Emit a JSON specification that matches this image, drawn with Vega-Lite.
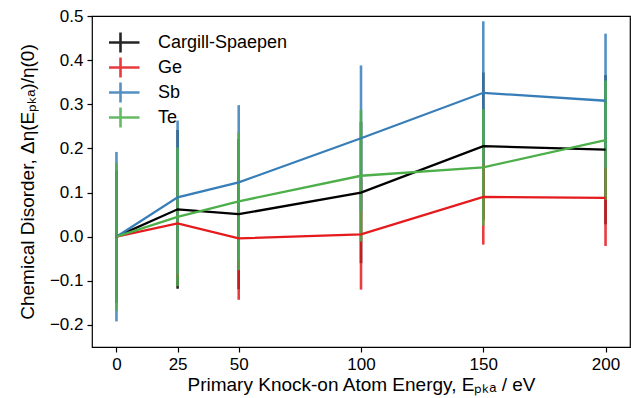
{
  "$schema": "https://vega.github.io/schema/vega-lite/v6.json",
  "width": 538,
  "height": 331,
  "autosize": "none",
  "padding": {"left": 92, "top": 16, "right": 1, "bottom": 51},
  "background": "white",
  "config": {
    "font": "Liberation Sans",
    "view": {"stroke": "black", "strokeWidth": 1.2},
    "axis": {
      "grid": false,
      "domain": false,
      "tickColor": "black",
      "tickSize": 5,
      "tickWidth": 1.2,
      "labelColor": "black",
      "labelFontSize": 17,
      "labelFont": "Liberation Sans",
      "titleColor": "black",
      "titleFontSize": 19,
      "titleFontWeight": "normal",
      "titleFont": "Liberation Sans"
    }
  },
  "data": {
    "values": [
      {"E": 0, "series": "Cargill-Spaepen", "y": 0, "lo": -0.15, "hi": 0.15},
      {"E": 25, "series": "Cargill-Spaepen", "y": 0.062, "lo": -0.118, "hi": 0.242},
      {"E": 50, "series": "Cargill-Spaepen", "y": 0.051, "lo": -0.119, "hi": 0.221},
      {"E": 100, "series": "Cargill-Spaepen", "y": 0.1, "lo": -0.06, "hi": 0.26},
      {"E": 150, "series": "Cargill-Spaepen", "y": 0.205, "lo": 0.038, "hi": 0.372},
      {"E": 200, "series": "Cargill-Spaepen", "y": 0.197, "lo": 0.028, "hi": 0.366},
      {"E": 0, "series": "Ge", "y": 0, "lo": -0.13, "hi": 0.13},
      {"E": 25, "series": "Ge", "y": 0.03, "lo": -0.09, "hi": 0.15},
      {"E": 50, "series": "Ge", "y": -0.004, "lo": -0.143, "hi": 0.135},
      {"E": 100, "series": "Ge", "y": 0.005, "lo": -0.12, "hi": 0.13},
      {"E": 150, "series": "Ge", "y": 0.09, "lo": -0.018, "hi": 0.198},
      {"E": 200, "series": "Ge", "y": 0.088, "lo": -0.021, "hi": 0.197},
      {"E": 0, "series": "Sb", "y": 0, "lo": -0.192, "hi": 0.192},
      {"E": 25, "series": "Sb", "y": 0.089, "lo": -0.085, "hi": 0.263},
      {"E": 50, "series": "Sb", "y": 0.123, "lo": -0.052, "hi": 0.298},
      {"E": 100, "series": "Sb", "y": 0.223, "lo": 0.058, "hi": 0.388},
      {"E": 150, "series": "Sb", "y": 0.326, "lo": 0.164, "hi": 0.488},
      {"E": 200, "series": "Sb", "y": 0.308, "lo": 0.156, "hi": 0.46},
      {"E": 0, "series": "Te", "y": 0, "lo": -0.168, "hi": 0.168},
      {"E": 25, "series": "Te", "y": 0.045, "lo": -0.112, "hi": 0.202},
      {"E": 50, "series": "Te", "y": 0.08, "lo": -0.076, "hi": 0.236},
      {"E": 100, "series": "Te", "y": 0.138, "lo": -0.011, "hi": 0.287},
      {"E": 150, "series": "Te", "y": 0.157, "lo": 0.025, "hi": 0.289},
      {"E": 200, "series": "Te", "y": 0.219, "lo": 0.084, "hi": 0.354}
    ]
  },
  "encoding": {
    "x": {
      "field": "E",
      "type": "quantitative",
      "scale": {"domain": [-10, 210], "nice": false, "zero": false},
      "axis": {"values": [0, 25, 50, 100, 150, 200], "title": "Primary Knock-on Atom Energy, Eₚₖₐ / eV", "labelPadding": 4, "titlePadding": 3}
    },
    "color": {
      "field": "series",
      "type": "nominal",
      "scale": {
        "domain": ["Cargill-Spaepen", "Ge", "Sb", "Te"],
        "range": ["#000000", "#e41a1c", "#377eb8", "#4daf4a"]
      },
      "legend": {
        "title": null,
        "orient": "none",
        "legendX": 17,
        "legendY": 14,
        "padding": 0,
        "symbolType": "M-1.9,0H1.9M0,-1V1",
        "symbolSize": 400,
        "symbolStrokeWidth": 2.6,
        "symbolFillColor": "transparent",
        "labelFontSize": 18,
        "labelColor": "black",
        "labelFont": "Liberation Sans",
        "labelOffset": 26,
        "clipHeight": 25,
        "rowPadding": 0
      }
    }
  },
  "layer": [
    {
      "mark": {"type": "rule", "strokeWidth": 2.6, "opacity": 0.85},
      "encoding": {
        "y": {
          "field": "lo",
          "type": "quantitative",
          "scale": {"domain": [-0.25, 0.5], "nice": false, "zero": false},
          "axis": {
            "values": [-0.2, -0.1, 0, 0.1, 0.2, 0.3, 0.4, 0.5],
            "format": ".1f",
            "labelExpr": "replace(datum.label, '-', '−')",
            "title": "Chemical Disorder, Δη(Eₚₖₐ)/η(0)",
            "labelPadding": 4,
            "titlePadding": 12
          }
        },
        "y2": {"field": "hi"}
      }
    },
    {
      "mark": {"type": "line", "strokeWidth": 2.3},
      "encoding": {
        "y": {"field": "y", "type": "quantitative"}
      }
    }
  ]
}
